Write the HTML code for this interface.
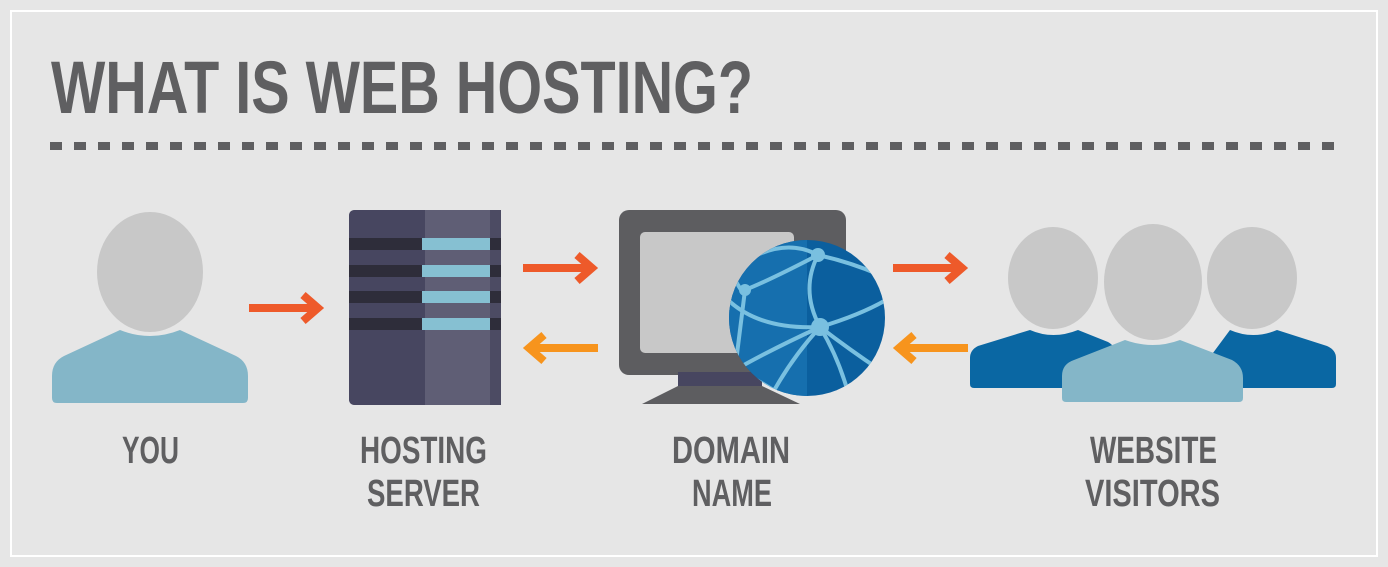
<!DOCTYPE html>
<html><head><meta charset="utf-8"><style>
html,body{margin:0;padding:0;background:#e6e6e6;}
svg{display:block}
text{font-family:"Liberation Sans Narrow","Liberation Sans",sans-serif;font-weight:bold;fill:#5f5f61}
</style></head><body>
<svg width="1388" height="567" viewBox="0 0 1388 567" xmlns="http://www.w3.org/2000/svg">
<rect x="0" y="0" width="1388" height="567" fill="#e6e6e6"/>
<rect x="11" y="11" width="1366" height="545" fill="none" stroke="#ffffff" stroke-width="2"/>
<text x="51" y="113" font-size="74" textLength="702" lengthAdjust="spacingAndGlyphs">WHAT IS WEB HOSTING?</text>
<line x1="50" y1="146" x2="1338" y2="146" stroke="#5f5f61" stroke-width="8" stroke-dasharray="12 12"/>

<!-- YOU -->
<path d="M120,330 Q150,342 180,330 L236,356 Q248,362 248,376 L248,398 Q248,403 243,403 L57,403 Q52,403 52,398 L52,376 Q52,362 64,356 Z" fill="#84b6c8"/>
<ellipse cx="150" cy="272" rx="56" ry="63" fill="#e6e6e6"/>
<ellipse cx="150" cy="272" rx="53" ry="60" fill="#c8c8c8"/>

<!-- arrows -->
<g stroke-width="8" fill="none">
<g stroke="#ee5a2a">
<line x1="249" y1="308" x2="318" y2="308"/><polyline points="303,295 318,308 303,321"/>
<line x1="523" y1="268" x2="592" y2="268"/><polyline points="577,255 592,268 577,281"/>
<line x1="893" y1="268" x2="962" y2="268"/><polyline points="947,255 962,268 947,281"/>
</g>
<g stroke="#f7941d">
<line x1="598" y1="348" x2="529" y2="348"/><polyline points="544,335 529,348 544,361"/>
<line x1="968" y1="348" x2="899" y2="348"/><polyline points="914,335 899,348 914,361"/>
</g>
</g>

<!-- server -->
<rect x="349" y="210" width="152" height="195" rx="6" fill="#5f5e75"/>
<path d="M355,210 L425,210 L425,405 L355,405 Q349,405 349,399 L349,216 Q349,210 355,210Z" fill="#474660"/>
<rect x="490" y="210" width="11" height="195" fill="#4c4b63"/>
<g fill="#2e2d3a">
<rect x="349" y="238" width="152" height="12"/><rect x="349" y="265" width="152" height="12"/>
<rect x="349" y="291" width="152" height="12"/><rect x="349" y="318" width="152" height="12"/>
</g>
<g fill="#86c0d2">
<rect x="422" y="238" width="68" height="12"/><rect x="422" y="265" width="68" height="12"/>
<rect x="422" y="291" width="68" height="12"/><rect x="422" y="318" width="68" height="12"/>
</g>

<!-- monitor -->
<rect x="619" y="210" width="227" height="165" rx="10" fill="#5d5d60"/>
<rect x="640" y="232" width="154" height="121" rx="5" fill="#c8c8c8"/>
<rect x="678" y="372" width="84" height="14" fill="#474660"/>
<path d="M678,386 L762,386 L800,404 L642,404 Z" fill="#5d5d60"/>
<!-- globe -->
<defs><clipPath id="g"><circle cx="807" cy="318" r="78"/></clipPath></defs>
<circle cx="807" cy="318" r="78" fill="#0b5f9e"/>
<g clip-path="url(#g)">
<rect x="729" y="240" width="78" height="160" fill="#166fae"/>
<g stroke="#79c0e0" stroke-width="4" fill="none">
<path d="M757,255 Q790,240 818,255 Q850,262 880,275"/>
<path d="M818,255 Q800,290 820,327 Q840,360 850,400"/>
<path d="M728,300 Q760,330 820,327 Q860,315 886,300"/>
<path d="M730,270 Q745,300 745,290 Q770,280 818,255"/>
<path d="M745,290 Q740,330 735,370 Q760,380 785,398"/>
<path d="M820,327 Q790,360 770,398"/>
<path d="M820,327 Q850,350 880,370"/>
<path d="M735,370 Q770,350 820,327"/>
<path d="M880,370 Q865,390 850,400"/>
</g>
<g fill="#79c0e0"><circle cx="818" cy="255" r="7"/><circle cx="820" cy="327" r="9"/><circle cx="745" cy="290" r="6"/><circle cx="880" cy="370" r="5"/></g>
</g>

<!-- visitors -->
<path d="M1030,330 Q1053,340 1078,330 L1108,342 Q1115,346 1115,352 L1115,384 Q1115,388 1111,388 L974,388 Q970,388 970,384 L970,358 Q970,350 978,346 Z" fill="#0a67a3"/>
<path d="M1230,330 Q1253,340 1277,330 L1327,346 Q1336,350 1336,358 L1336,384 Q1336,388 1332,388 L1195,388 Q1190,388 1190,384 Z" fill="#0a67a3"/>
<ellipse cx="1053" cy="278" rx="48" ry="54" fill="#e6e6e6"/>
<ellipse cx="1053" cy="278" rx="45" ry="51" fill="#c8c8c8"/>
<ellipse cx="1252" cy="278" rx="48" ry="54" fill="#e6e6e6"/>
<ellipse cx="1252" cy="278" rx="45" ry="51" fill="#c8c8c8"/>
<path d="M1125,340 Q1153,350 1180,340 L1232,360 Q1243,366 1243,378 L1243,398 Q1243,402 1239,402 L1066,402 Q1062,402 1062,398 L1062,376 Q1062,364 1074,360 Z" fill="#84b6c8"/>
<ellipse cx="1153" cy="282" rx="52" ry="61" fill="#e6e6e6"/>
<ellipse cx="1153" cy="282" rx="49" ry="58" fill="#c8c8c8"/>

<!-- labels -->
<g font-size="38">
<text x="122" y="463" textLength="57" lengthAdjust="spacingAndGlyphs">YOU</text>
<text x="360" y="463" textLength="127" lengthAdjust="spacingAndGlyphs">HOSTING</text>
<text x="367" y="506" textLength="113" lengthAdjust="spacingAndGlyphs">SERVER</text>
<text x="672" y="463" textLength="118" lengthAdjust="spacingAndGlyphs">DOMAIN</text>
<text x="692" y="506" textLength="80" lengthAdjust="spacingAndGlyphs">NAME</text>
<text x="1090" y="463" textLength="127" lengthAdjust="spacingAndGlyphs">WEBSITE</text>
<text x="1085" y="506" textLength="135" lengthAdjust="spacingAndGlyphs">VISITORS</text>
</g>
</svg>
</body></html>
